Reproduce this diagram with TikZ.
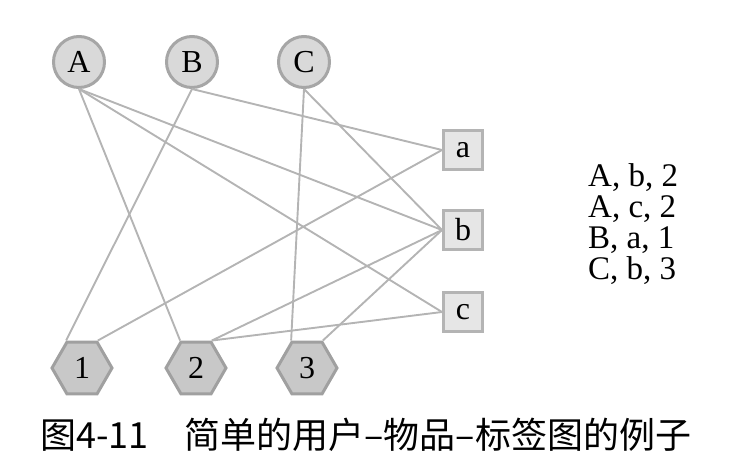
\documentclass[tikz,border=0pt]{standalone}
\usepackage{fontspec}
\setmainfont{Liberation Serif}
\newfontfamily\cjk{Noto Sans CJK SC}
\usetikzlibrary{shapes.geometric}
\definecolor{edgec}{HTML}{B4B4B4}
\definecolor{circfill}{HTML}{D9D9D9}
\definecolor{circdraw}{HTML}{A6A6A6}
\definecolor{hexfill}{HTML}{C8C8C8}
\definecolor{hexdraw}{HTML}{A0A0A0}
\definecolor{boxfill}{HTML}{E6E6E6}
\definecolor{boxdraw}{HTML}{B4B4B4}
\tikzset{
  lbl/.style={font=\fontsize{32}{32}\selectfont},
  user/.style={lbl, circle, draw=circdraw, fill=circfill, line width=3pt, minimum size=51pt, inner sep=0pt},
  tagnode/.style={lbl, regular polygon, regular polygon sides=6, draw=hexdraw, fill=hexfill, line width=3pt, minimum size=60pt, inner sep=0pt},
  item/.style={lbl, rectangle, draw=boxdraw, fill=boxfill, line width=3pt, minimum size=39pt, inner sep=0pt},
  link/.style={draw=edgec, line width=1.9pt},
  rowtxt/.style={font=\fontsize{33}{33}\selectfont, anchor=base west, inner sep=0pt},
}
\begin{document}
\begin{tikzpicture}[x=1pt,y=-1pt]
\useasboundingbox (0,0) rectangle (731,460);
\node[user] (A) at (79,62) {A};
\node[user] (B) at (192,62) {B};
\node[user] (C) at (304,62) {C};
\node[item] (a) at (463,150) {a};
\node[item] (b) at (463,230) {b};
\node[item] (c) at (463,312) {c};
\node[tagnode] (h1) at (82,368) {1};
\node[tagnode] (h2) at (196,368) {2};
\node[tagnode] (h3) at (307,368) {3};
\draw[link] (A.south) -- (b.west);
\draw[link] (A.south) -- (c.west);
\draw[link] (A.south) -- (h2.120);
\draw[link] (B.south) -- (h1.120);
\draw[link] (B.south) -- (a.west);
\draw[link] (C.south) -- (h3.120);
\draw[link] (C.south) -- (b.west);
\draw[link] (h1.60) -- (a.west);
\draw[link] (h2.60) -- (b.west);
\draw[link] (h2.60) -- (c.west);
\draw[link] (h3.60) -- (b.west);
\node[rowtxt] (r1) at (588,186) {A, b, 2};
\node[rowtxt] (r2) at (588,217) {A, c, 2};
\node[rowtxt] (r3) at (588,248) {B, a, 1};
\node[rowtxt] (r4) at (588,279) {C, b, 3};
\node[anchor=base west, inner sep=0pt, font=\cjk\fontsize{36}{36}\selectfont] (cap) at (40,448) {图4-11　简单的用户–物品–标签图的例子};
\end{tikzpicture}
\end{document}
